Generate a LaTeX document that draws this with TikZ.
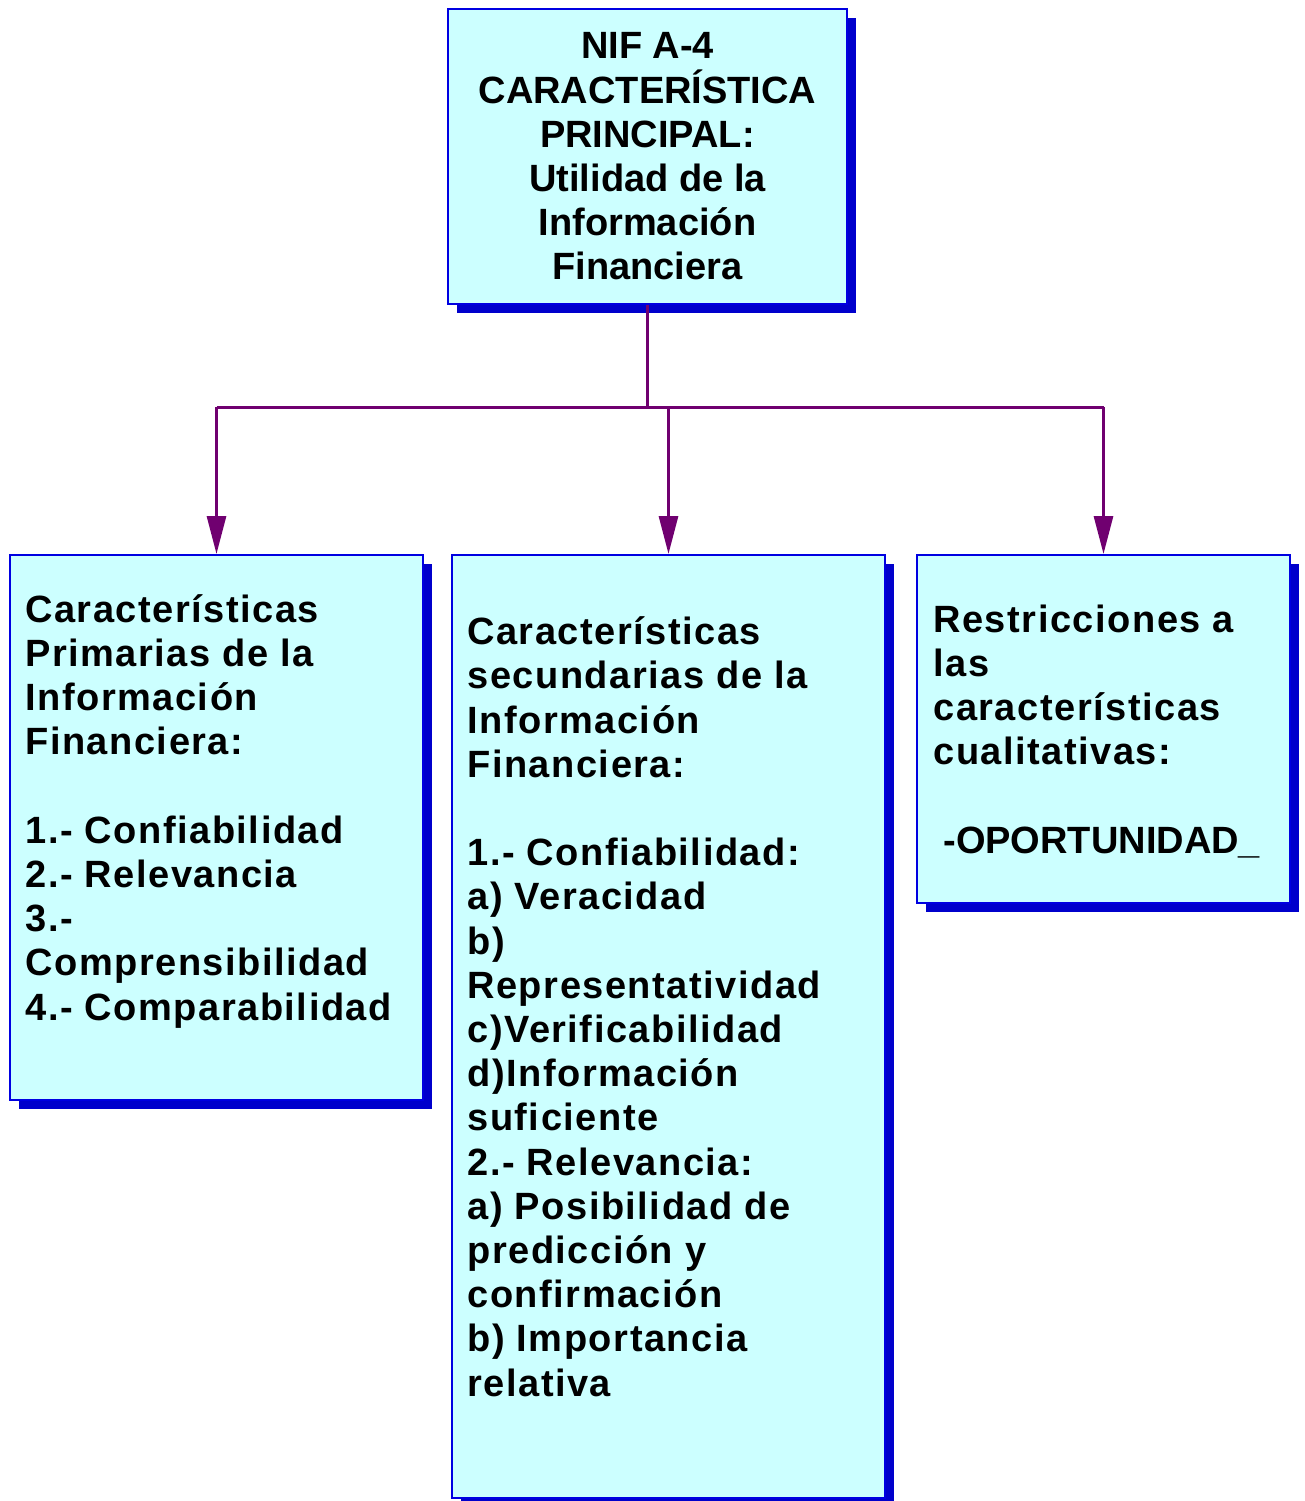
\documentclass[tikz,border=0pt]{standalone}
\usepackage{fontspec}
\setmainfont{Liberation Sans}
\newfontfamily\espaciada[LetterSpace=4]{Liberation Sans}
\usetikzlibrary{calc}
\usetikzlibrary{arrows.meta}
\usetikzlibrary{shadows}
\definecolor{cajafondo}{RGB}{204,255,255}
\definecolor{cajaborde}{RGB}{0,0,225}
\definecolor{cajasombra}{RGB}{0,0,204}
\definecolor{morado}{RGB}{112,0,112}
\tikzset{caja/.style={draw=cajaborde, line width=1pt, fill=cajafondo, inner sep=0pt,
  drop shadow={shadow xshift=4.5pt, shadow yshift=-4.5pt, fill=cajasombra, opacity=1}}}
\tikzset{texto/.style={inner sep=0pt, font=\bfseries\fontsize{19}{22.1}\selectfont}}
\tikzset{lista/.style={texto, font=\espaciada\bfseries\fontsize{19}{22.1}\selectfont, anchor=base west, align=left}}
\tikzset{liga/.style={morado, line width=1.5pt}}
\tikzset{punta/.style={-{Triangle[length=19pt, width=9.5pt]}}}

\begin{document}
\begin{tikzpicture}[x=.5pt, y=-.5pt]
\useasboundingbox (0,0) rectangle (1305,1501);

% cajas
\node[caja, texto, align=center, minimum width=199.5pt, minimum height=147.5pt] (nif) at (647.5,156.5)
  {NIF A-4\\CARACTERÍSTICA\\PRINCIPAL:\\Utilidad de la\\Información\\Financiera};
\node[caja, minimum width=206.5pt, minimum height=272.5pt] (prim) at (216.5,827.5) {};
\node[caja, minimum width=216.5pt, minimum height=471.5pt] (sec) at (668.5,1026.5) {};
\node[caja, minimum width=186.5pt, minimum height=174pt] (restr) at (1103.5,729) {};

% textos (anclados en la ultima linea)
\node[lista] (primtxt) at (25,1020)
  {Características\\Primarias de la\\Información\\Financiera:\\[22.1pt]
   1.- Confiabilidad\\2.- Relevancia\\3.-\\Comprensibilidad\\4.- Comparabilidad};
\node[lista] (sectxt) at (467,1396)
  {Características\\secundarias de la\\Información\\Financiera:\\[22.1pt]
   1.- Confiabilidad:\\a) Veracidad\\b)\\Representatividad\\c)Verificabilidad\\
   d)Información\\suficiente\\2.- Relevancia:\\a) Posibilidad de\\predicción y\\
   confirmación\\b) Importancia\\relativa};
\node[lista] (restrtxt) at (933,853)
  {Restricciones a\\las\\características\\cualitativas:\\[22.1pt]
   \hspace*{5pt}{\normalfont\bfseries -OPORTUNIDAD\_}};

% conectores
\coordinate (barra) at (0,407);
\draw[liga] (nif.south) -- (nif.south |- barra);
\draw[liga] (prim.north |- barra) -- (restr.north |- barra);
\foreach \c in {prim,sec,restr} {
  \draw[liga,punta] (\c.north |- barra) -- (\c.north);
}
\end{tikzpicture}
\end{document}
